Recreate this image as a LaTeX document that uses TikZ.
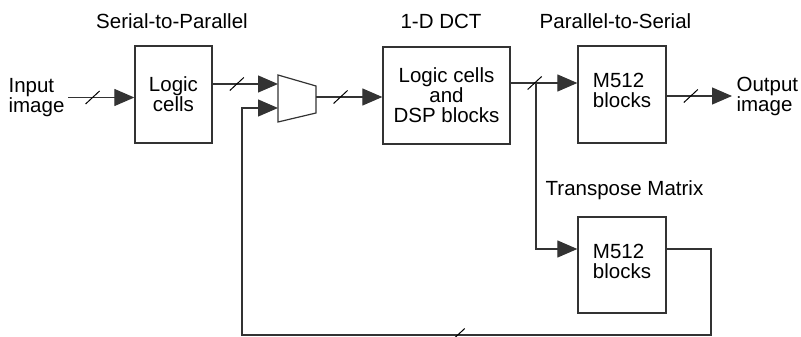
\documentclass[tikz,border=0pt]{standalone}
\usepackage{fontspec}
\setmainfont{Liberation Sans}
\usetikzlibrary{arrows.meta,calc,positioning}

\begin{document}
\begin{tikzpicture}[
  x=1pt, y=-1pt,
  font=\fontsize{20.5}{20}\selectfont,
  line width=1.2pt,
  block/.style={draw=black!80, line width=1.3pt, align=center, inner sep=0pt,
    minimum height=97pt},
  title/.style={inner sep=0pt},
  io/.style={inner sep=0pt, align=left, anchor=west},
  wire/.style={draw=black!80},
  arr/.style={-{Triangle[length=20pt,width=17pt]}, draw=black!80},
  slash/.pic={\draw[-, line width=1pt, black] (-7,6.5) -- (7,-6.5);}
]
\useasboundingbox (0,0) rectangle (801,337);
\node[block, minimum width=77pt] (lc) at (173.5,94.5) {Logic\\cells};
\node[block, minimum width=127pt] (dct) at (446.5,95.5) {Logic cells\\and\\DSP blocks};
\node[block, minimum width=88pt, align=left] (ps) at (622,94.5) {M512\\blocks\\[-12pt]};
\node[block, minimum width=88pt, minimum height=96pt, align=left] (tm) at (622,265) {M512\\blocks\\[-12pt]};
\node[title, above=16pt of lc, xshift=-1.5pt] (lcl) {Serial-to-Parallel};
\node[title, above=17pt of dct, xshift=-5.5pt] (dctl) {1-D DCT};
\node[title, above=16.5pt of ps, xshift=-6.5pt] (psl) {Parallel-to-Serial};
\node[title, above=16pt of tm, xshift=2.5pt] (tml) {Transpose Matrix};
\node[io] (inp) at (8,97.5) {Input\\image};
\node[io] (outp) at (736,96) {Output\\image};
% multiplexer
\draw[wire] (278,75) -- (316,86) -- (316,113) -- (278,122) -- cycle;
\coordinate (mux-a) at (278,84);
\coordinate (mux-b) at (278,108);
\coordinate (mux-o) at (316,97);
\coordinate (br) at (536,83);
\coordinate (fb-r) at (711,335);
\coordinate (fb-l) at (242,335);
\draw[arr] ([xshift=3pt]inp.east) -- pic[pos=0.37]{slash} (inp.east -| lc.west);
\draw[arr] (lc.east |- mux-a) -- pic[pos=0.37]{slash} (mux-a);
\draw[arr] (mux-o) -- pic[pos=0.37]{slash} (mux-o -| dct.west);
\draw[arr] (dct.east |- br) -- pic[pos=0.36]{slash} (br -| ps.west);
\draw[arr] (br) |- ($(tm.west)+(0,-16)$);
\draw[arr] (ps.east |- outp) -- pic[pos=0.37]{slash} ([xshift=-4pt]outp.west);
% feedback
\draw[arr] ($(tm.east)+(0,-16)$) -| (fb-r) -- pic[pos=0.54]{slash} (fb-l) |- (mux-b);
\end{tikzpicture}
\end{document}
